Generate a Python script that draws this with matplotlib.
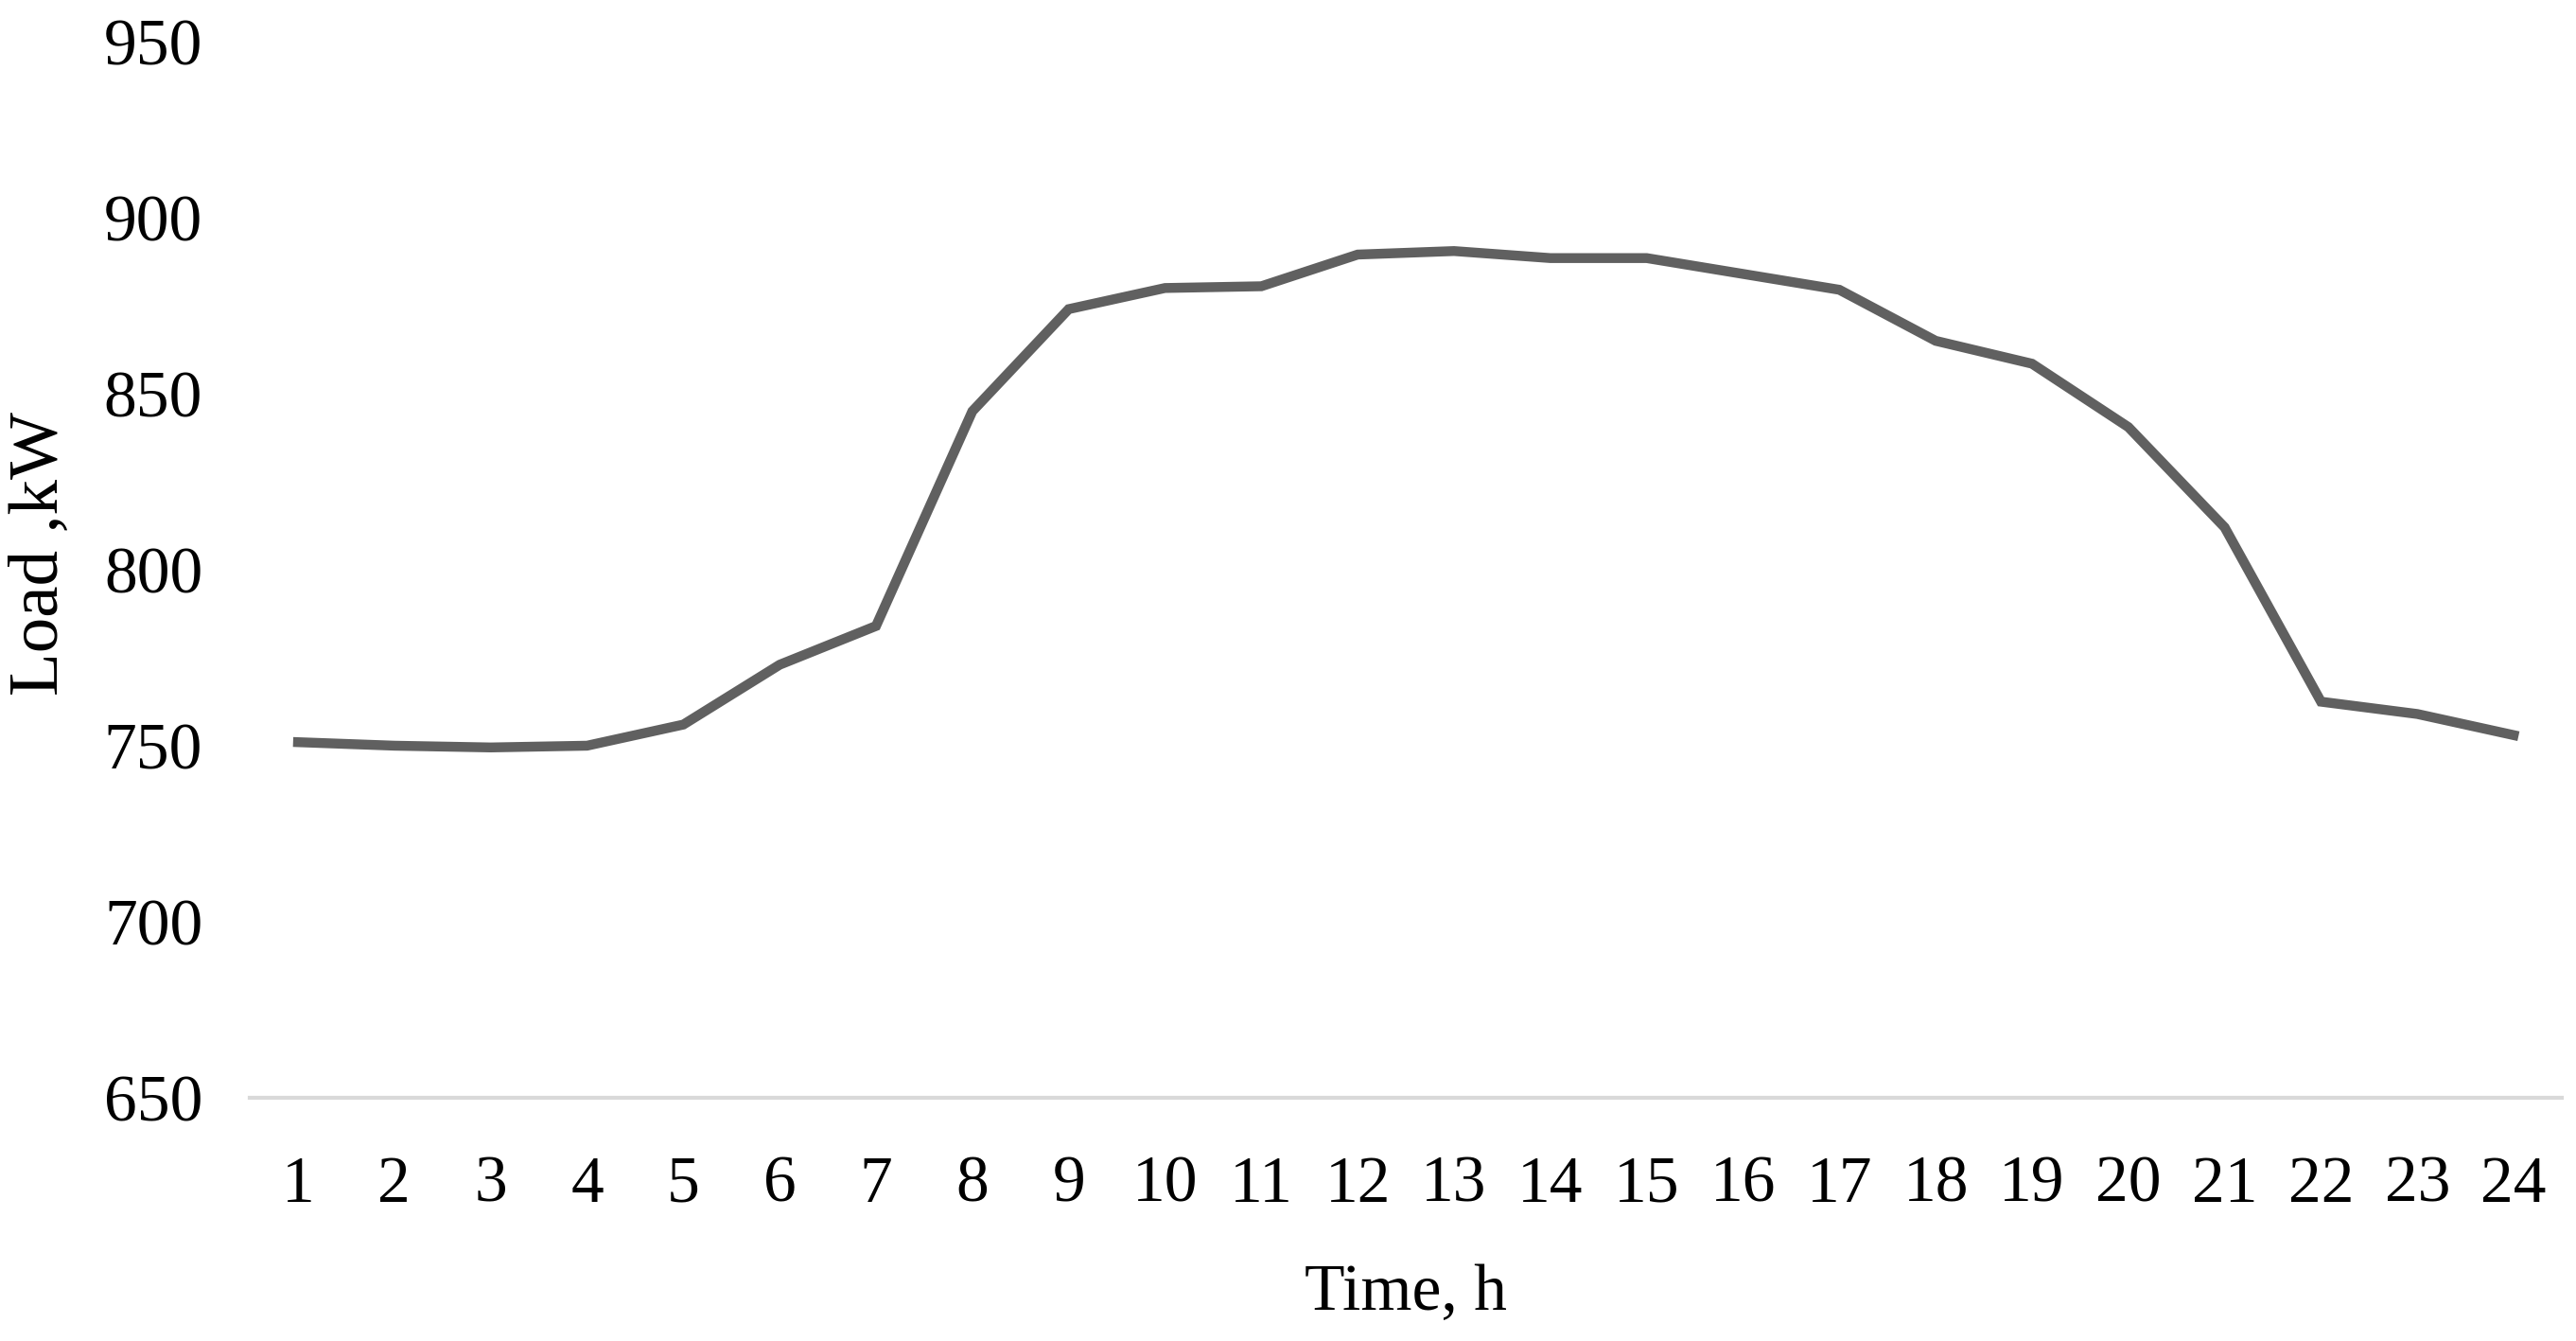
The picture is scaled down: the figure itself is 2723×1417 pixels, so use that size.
import matplotlib
matplotlib.use("Agg")
import matplotlib.pyplot as plt

# Data
hours = list(range(1, 25))
load_kw = [751, 750, 749.5, 750, 756, 773, 784, 845, 874, 880, 880.5, 889.5,
           890.5, 888.5, 888.5, 884, 879.5, 865, 858.5, 840.5, 812, 762.5, 759, 753]
y_ticks = [650, 700, 750, 800, 850, 900, 950]

plt.rcParams['font.family'] = ['Liberation Serif', 'DejaVu Serif']

fig = plt.figure(figsize=(27.23, 14.17), dpi=100)
ax = fig.add_axes([0.097, 0.1814, 0.8975, 0.7876])

ax.plot(hours, load_kw, color='#606060', linewidth=7.5, solid_joinstyle='miter')

ax.set_xlim(0.5, 24.5)
ax.set_ylim(650, 950)
ax.set_xticks(hours)
ax.set_xticklabels([str(h) for h in hours])
ax.set_yticks(y_ticks)

for side in ['top', 'right', 'left']:
    ax.spines[side].set_visible(False)
ax.spines['bottom'].set_color('#d9d9d9')
ax.spines['bottom'].set_linewidth(3)

ax.tick_params(axis='both', length=0, labelsize=50, colors='black')
ax.tick_params(axis='x', pad=44)
ax.tick_params(axis='y', pad=36)

fig.text(0.0158, 0.587, 'Load ,kW', rotation=90, fontsize=54,
         ha='center', va='center')
fig.text(0.5458, 0.035, 'Time, h', fontsize=50, ha='center', va='center')

fig.savefig('out.png', dpi=100)
